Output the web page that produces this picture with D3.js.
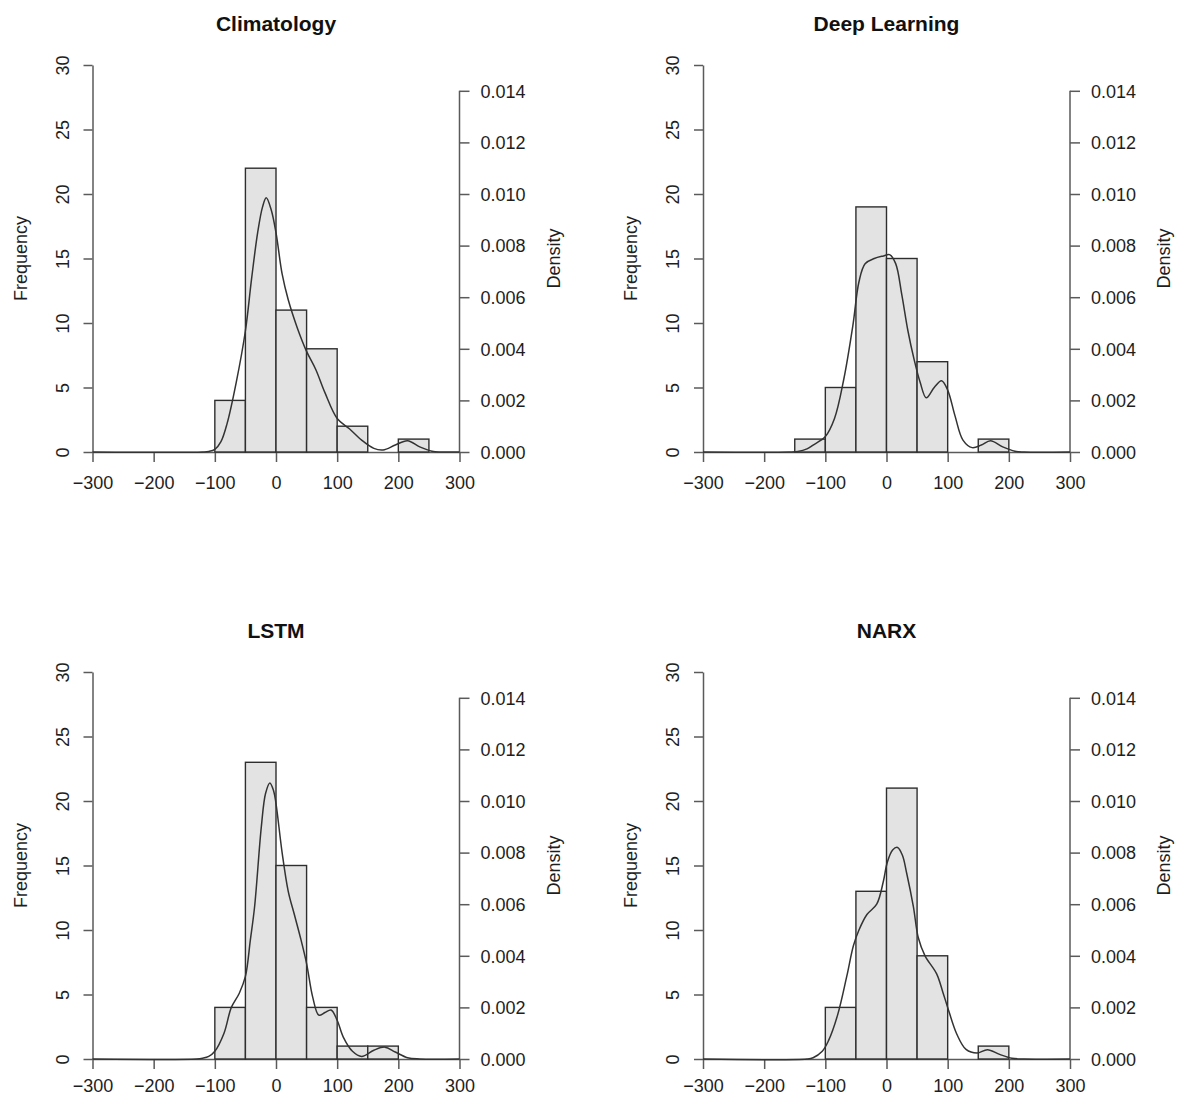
<!DOCTYPE html>
<html>
<head>
<meta charset="utf-8">
<script src="https://cdn.jsdelivr.net/npm/d3@7"></script>
<style>
  body { margin: 0; background: #fff; }
  svg { display: block; font-family: "Liberation Sans", Arial, sans-serif; }
</style>
</head>
<body>
<div id="chart"></div>
<script>
// histogram bins (width 50) and counts
const titles = ["Climatology", "Deep Learning", "LSTM", "NARX"]
const binStarts = [-150, -100, -50, 0, 50, 100, 150, 200]
const binWidth = 50

const climatologyCounts = [0, 4, 22, 11, 8, 2, 0, 1]
const deepLearningCounts = [1, 5, 19, 15, 7, 0, 1, 0]
const lstmCounts = [0, 4, 23, 15, 4, 1, 1, 0]
const narxCounts = [0, 4, 13, 21, 8, 0, 1, 0]

// density curves [x, density]
const climatologyDensity = [[-300, 0], [-120, 0], [-110, 0.00002], [-100, 0.0001], [-90, 0.0004], [-80, 0.0011], [-65, 0.0027], [-50, 0.0047], [-40, 0.0067], [-30, 0.0085], [-22, 0.0095], [-16, 0.00985], [-8, 0.0094], [0, 0.0085], [10, 0.0069], [20, 0.0059], [35, 0.0048], [50, 0.0039], [65, 0.0032], [80, 0.0023], [100, 0.0013], [120, 0.0009], [140, 0.00046], [160, 0.00014], [175, 0.00008], [195, 0.00027], [215, 0.00044], [235, 0.0002], [255, 0.00003], [270, 0], [300, 0]]
const deepLearningDensity = [[-300, 0], [-160, 0], [-145, 0.00002], [-130, 0.00012], [-120, 0.00027], [-100, 0.0006], [-85, 0.0013], [-70, 0.0028], [-55, 0.0049], [-45, 0.0066], [-35, 0.0073], [-20, 0.0075], [-5, 0.0076], [5, 0.00765], [15, 0.0073], [25, 0.0061], [35, 0.0047], [45, 0.0036], [55, 0.0027], [65, 0.0021], [78, 0.0025], [90, 0.00276], [100, 0.0024], [112, 0.0014], [125, 0.00046], [140, 0.00017], [155, 0.00027], [170, 0.00044], [190, 0.0002], [210, 0.00003], [225, 0], [300, 0]]
const lstmDensity = [[-300, 0], [-130, 0], [-120, 0.00003], [-110, 0.0001], [-100, 0.0003], [-85, 0.001], [-73, 0.002], [-60, 0.00255], [-50, 0.0032], [-42, 0.0046], [-35, 0.0059], [-24, 0.009], [-17, 0.0103], [-10, 0.0107], [-4, 0.0104], [0, 0.0099], [10, 0.008], [20, 0.0065], [30, 0.0056], [40, 0.0047], [50, 0.0037], [60, 0.0024], [70, 0.0017], [80, 0.0018], [90, 0.0019], [100, 0.0015], [110, 0.00085], [125, 0.0003], [140, 0.0001], [160, 0.00034], [178, 0.00046], [195, 0.00027], [215, 0.00005], [235, 0], [300, 0]]
const narxDensity = [[-300, 0], [-130, 0], [-120, 0.00005], [-105, 0.0003], [-95, 0.0007], [-80, 0.0017], [-65, 0.0032], [-54, 0.0044], [-45, 0.005], [-32, 0.0056], [-16, 0.006], [-5, 0.0069], [1, 0.0076], [10, 0.0081], [18, 0.0082], [26, 0.0079], [33, 0.0072], [44, 0.0059], [52, 0.0047], [63, 0.004], [82, 0.0033], [92, 0.0026], [100, 0.002], [115, 0.00096], [130, 0.00037], [148, 0.00023], [165, 0.00036], [185, 0.00018], [205, 0.00003], [225, 0], [300, 0]]

const xTicks = [-300, -200, -100, 0, 100, 200, 300]
const freqTicks = [0, 5, 10, 15, 20, 25, 30]
const densityTicks = [0, 0.002, 0.004, 0.006, 0.008, 0.010, 0.012, 0.014]

const allCounts = [climatologyCounts, deepLearningCounts, lstmCounts, narxCounts]
const allDensity = [climatologyDensity, deepLearningDensity, lstmDensity, narxDensity]

const width = 1179
const height = 1096
const plotW = 367
const plotH = 387
const origins = [[92.5, 65], [703, 65], [92.5, 672], [703, 672]]
const xLabelOffset = [37, 37, 33, 33]
const axisColor = "#5a5a5a"
const textColor = "#1e1e1e"

const svg = d3.select("#chart")
    .append("svg")
    .attr("width", width)
    .attr("height", height)

svg.append("rect").attr("width", width).attr("height", height).attr("fill", "#fff")

titles.forEach((title, i) => {
    const [ox, oy] = origins[i]
    const g = svg.append("g").attr("transform", `translate(${ox},${oy})`)

    const x = d3.scaleLinear().domain([-300, 300]).range([0, plotW])
    const yFreq = d3.scaleLinear().domain([0, 30]).range([plotH, 0])
    const yDen = d3.scaleLinear().domain([0, 0.015]).range([plotH, 0])

    // x axis
    const xg = g.append("g")
        .attr("transform", `translate(0,${plotH})`)
        .call(d3.axisBottom(x).tickValues(xTicks).tickSize(10).tickSizeOuter(0))
    xg.selectAll("text").attr("y", xLabelOffset[i]).attr("dy", null)

    // left frequency axis
    const lg = g.append("g")
        .call(d3.axisLeft(yFreq).tickValues(freqTicks).tickSize(9).tickSizeOuter(0))
    lg.selectAll("text")
        .attr("transform", "rotate(-90)")
        .attr("x", 0).attr("y", -24).attr("dy", null)
        .attr("text-anchor", "middle")

    // right density axis
    const rg = g.append("g")
        .attr("transform", `translate(${plotW},0)`)
        .call(d3.axisRight(yDen).tickValues(densityTicks).tickSize(10).tickFormat(d3.format(".3f")))
    rg.select(".domain").remove()
    rg.append("line")
        .attr("y1", yDen(0)).attr("y2", yDen(0.014))
        .attr("stroke", "currentColor")
    rg.selectAll("text").attr("x", 21).attr("dy", "0.35em")

    for (const ax of [xg, lg, rg]) {
        ax.attr("color", axisColor).attr("font-size", 18).attr("font-family", null)
        ax.selectAll("path, line").attr("stroke-width", 1.5)
        ax.selectAll("text").attr("fill", textColor)
    }

    // bars
    const bins = binStarts.map((s, j) => ({ s: s, c: allCounts[i][j] })).filter(d => d.c > 0)
    g.selectAll("rect.bar")
        .data(bins)
        .join("rect")
        .attr("class", "bar")
        .attr("x", d => x(d.s))
        .attr("width", d => x(d.s + binWidth) - x(d.s))
        .attr("y", d => yFreq(d.c))
        .attr("height", d => plotH - yFreq(d.c))
        .attr("fill", "#e3e3e3")
        .attr("stroke", "#2e2e2e")
        .attr("stroke-width", 1.4)

    // density curve
    const line = d3.line()
        .x(d => x(d[0]))
        .y(d => Math.min(yDen(d[1]), plotH))
        .curve(d3.curveCatmullRom.alpha(0.5))
    g.append("path")
        .datum(allDensity[i])
        .attr("fill", "none")
        .attr("stroke", "#333")
        .attr("stroke-width", 1.5)
        .attr("d", line)

    // labels
    g.append("text")
        .attr("x", plotW / 2).attr("y", -34)
        .attr("text-anchor", "middle")
        .attr("font-size", 21).attr("font-weight", "bold")
        .attr("fill", "#111")
        .text(title)

    g.append("text")
        .attr("transform", `translate(-66,${plotH / 2}) rotate(-90)`)
        .attr("text-anchor", "middle")
        .attr("font-size", 18).attr("fill", textColor)
        .text("Frequency")

    g.append("text")
        .attr("transform", `translate(${plotW + 100},${plotH / 2}) rotate(-90)`)
        .attr("text-anchor", "middle")
        .attr("font-size", 18).attr("fill", textColor)
        .text("Density")
})
</script>
</body>
</html>
